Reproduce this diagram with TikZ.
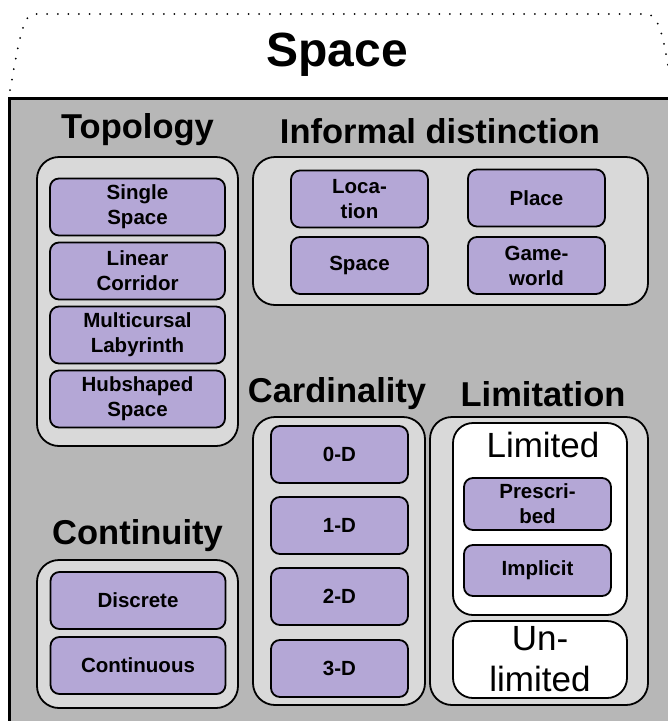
\documentclass[tikz,border=0pt]{standalone}
\usepackage{fontspec}
\setmainfont{Liberation Sans}
\definecolor{spacegray}{HTML}{B7B7B7}
\definecolor{groupgray}{HTML}{D9D9D9}
\definecolor{itempurple}{HTML}{B4A7D6}
\begin{document}
\begin{tikzpicture}[x=1pt, y=-1pt, line width=1.8pt,
group box/.style={rectangle,draw,fill=groupgray,rounded corners=22pt,inner sep=0pt},
white box/.style={rectangle,draw,fill=white,rounded corners=20pt,inner sep=0pt},
item box/.style={rectangle,draw,fill=itempurple,rounded corners=9pt,inner sep=0pt,align=center,font=\fontsize{20.5}{25}\selectfont\bfseries},
head text/.style={font=\fontsize{34.5}{40}\selectfont\bfseries}]
\clip (0,0) rectangle (668,721);
% outer tab
\draw[line width=2pt, line cap=round, dash pattern=on 0pt off 10.6pt] (10,90) .. controls (18,48) and (22,14) .. (34,14) -- (646,14) .. controls (660,14) and (664,40) .. (672,90);
\node[font=\fontsize{48}{56}\selectfont\bfseries] (space) at (337,55) {Space};
\draw[line width=3pt, fill=spacegray] (9.5,98.5) rectangle (700,760);
\begin{scope}
\node[head text] (topo) at (137.5,130) {Topology};
\node[head text] (informal) at (440,131) {Informal distinction};
\node[head text] (card) at (337,394) {Cardinality};
\node[head text] (limit) at (543,394) {Limitation};
\node[head text] (conti) at (137.5,536) {Continuity};
\end{scope}
\begin{scope}
\node[group box, minimum width=201pt, minimum height=289pt] (g topo) at (137.5,301.5) {};
\node[group box, minimum width=395pt, minimum height=148pt] (g informal) at (450.5,231) {};
\node[group box, minimum width=172pt, minimum height=288pt] (g card) at (339,561) {};
\node[group box, minimum width=218pt, minimum height=288pt] (g limit) at (539,561) {};
\node[group box, minimum width=201pt, minimum height=148pt] (g conti) at (137.5,634) {};
\end{scope}
\begin{scope}[every node/.append style={minimum width=175pt, minimum height=57pt}]
\node[item box] (single) at (137.5,207) {Single\\Space};
\node[item box] (linear) at (137.5,271) {Linear\\Corridor};
\node[item box] (multi) at (137.5,335) {Multicursal\\Labyrinth};
\node[item box] (hub) at (137.5,399) {Hubshaped\\Space};
\node[item box] (discrete) at (138,600.5) {Discrete};
\node[item box] (continuous) at (138,665.5) {Continuous};
\end{scope}
\begin{scope}[every node/.append style={minimum width=137pt, minimum height=57pt}]
\node[item box] (location) at (359.5,199) {Loca-\\tion};
\node[item box] (place) at (536.5,198) {Place};
\node[item box] (spc) at (359.5,265.5) {Space};
\node[item box] (gameworld) at (536.5,265.5) {Game-\\world};
\node[item box] (d0) at (339.5,454.5) {0-D};
\node[item box] (d1) at (339.5,525.5) {1-D};
\node[item box] (d2) at (339.5,596.5) {2-D};
\node[item box] (d3) at (339.5,668.5) {3-D};
\end{scope}
\node[white box, minimum width=174pt, minimum height=192pt] (limited) at (540,519) {};
\node[font=\fontsize{35}{40}\selectfont] (limited label) at (543,445) {Limited};
\node[item box, minimum width=147pt, minimum height=52pt] (prescribed) at (537.5,504) {Prescri-\\bed};
\node[item box, minimum width=147pt, minimum height=51pt] (implicit) at (537.5,570.5) {Implicit};
\node[white box, minimum width=174pt, minimum height=77pt, align=center, font=\fontsize{35}{41}\selectfont] (unlimited) at (540,659.5) {Un-\\limited};
\end{tikzpicture}
\end{document}
